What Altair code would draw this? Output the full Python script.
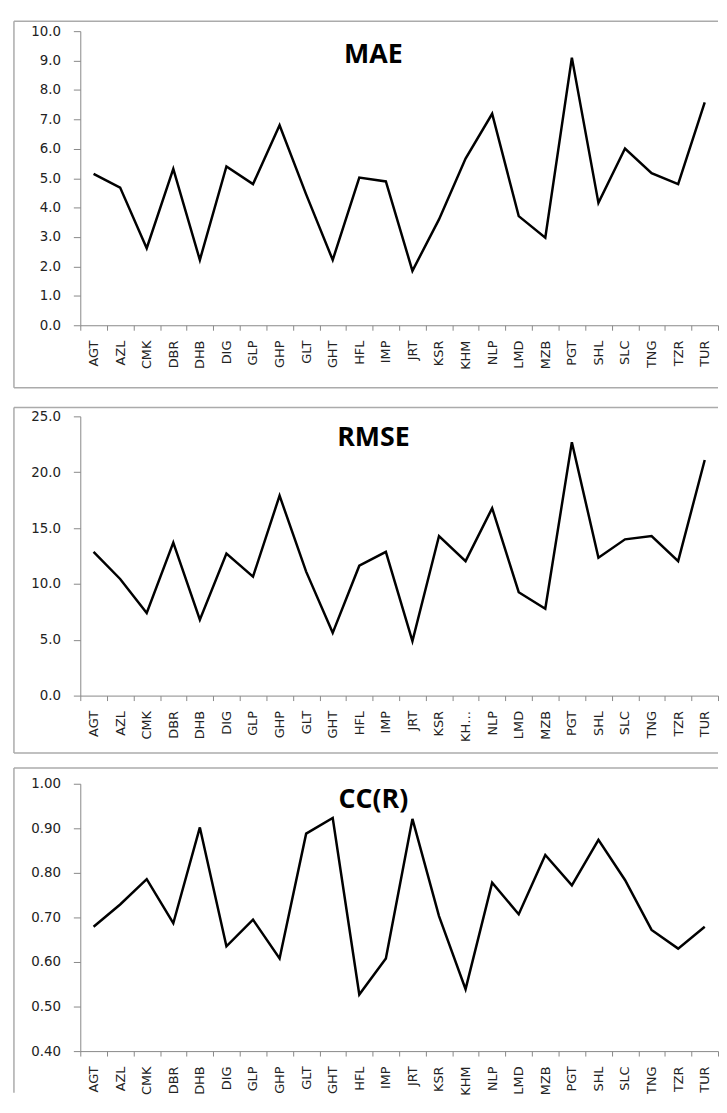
import altair as alt
import pandas as pd

stations = ["AGT", "AZL", "CMK", "DBR", "DHB", "DIG", "GLP", "GHP", "GLT", "GHT",
            "HFL", "IMP", "JRT", "KSR", "KHM", "NLP", "LMD", "MZB", "PGT", "SHL",
            "SLC", "TNG", "TZR", "TUR"]

mae = [5.15, 4.68, 2.62, 5.32, 2.22, 5.40, 4.80, 6.80, 4.45, 2.22,
       5.02, 4.89, 1.85, 3.60, 5.67, 7.19, 3.71, 2.98, 9.10, 4.16,
       6.01, 5.17, 4.80, 7.58]

rmse = [12.87, 10.44, 7.40, 13.70, 6.80, 12.72, 10.65, 17.90, 11.10, 5.62,
        11.63, 12.87, 4.88, 14.29, 12.04, 16.78, 9.26, 7.78, 22.69, 12.34,
        13.99, 14.29, 12.04, 21.09]

cc = [0.679, 0.729, 0.786, 0.687, 0.902, 0.635, 0.695, 0.608, 0.888, 0.923,
      0.527, 0.608, 0.921, 0.703, 0.539, 0.778, 0.707, 0.840, 0.772, 0.874,
      0.784, 0.672, 0.630, 0.679]

mae_ticks = [0, 1, 2, 3, 4, 5, 6, 7, 8, 9, 10]
rmse_ticks = [0, 5, 10, 15, 20, 25]
cc_ticks = [0.4, 0.5, 0.6, 0.7, 0.8, 0.9, 1.0]

titles = ["MAE", "RMSE", "CC(R)"]

W = 644
BOX_LEFT = -67
BOX_RIGHT = 644
BORDER = "#ababab"
LABEL_FONT = "DejaVu Sans"


def panel(values, title, ticks, fmt, height, box_top, box_bottom, title_y,
          label_expr=None, draw_bottom=True):
    df = pd.DataFrame({"station": stations, "value": values})
    x_axis = dict(title=None, labelAngle=270, tickBand="extent", labelOverlap=False,
                  labelPadding=10, tickSize=5, labelLimit=0, grid=False,
                  labelFont=LABEL_FONT, labelFontSize=13, labelColor="#222222",
                  domainColor="#888888", tickColor="#888888")
    if label_expr:
        x_axis["labelExpr"] = label_expr
    x = alt.X("station:N", sort=stations, bandPosition=0.5,
              scale=alt.Scale(type="band", paddingInner=0, paddingOuter=0),
              axis=alt.Axis(**x_axis))
    y = alt.Y("value:Q",
              scale=alt.Scale(domain=[ticks[0], ticks[-1]], nice=False, zero=False),
              axis=alt.Axis(title=None, values=ticks, format=fmt, grid=False,
                            tickSize=7, labelPadding=13,
                            labelFont=LABEL_FONT, labelFontSize=13.5, labelColor="#222222",
                            domainColor="#888888", tickColor="#888888"))
    line = alt.Chart(df).mark_line(color="black", strokeWidth=2.5, strokeJoin="miter").encode(
        x=x, y=y)
    one = alt.Data(values=[{"t": title}])
    txt = alt.Chart(one).mark_text(font="Open Sans", fontWeight="bold", fontSize=27,
                                   baseline="alphabetic", align="center",
                                   color="black").encode(
        x=alt.value(296), y=alt.value(title_y), text="t:N")
    top = alt.Chart(one).mark_rule(color=BORDER, strokeWidth=1.5).encode(
        x=alt.value(BOX_LEFT), x2=alt.value(BOX_RIGHT), y=alt.value(box_top))
    left = alt.Chart(one).mark_rule(color=BORDER, strokeWidth=1.5).encode(
        x=alt.value(BOX_LEFT), y=alt.value(box_top), y2=alt.value(box_bottom))
    layers = [top, left, line, txt]
    if draw_bottom:
        bottom = alt.Chart(one).mark_rule(color=BORDER, strokeWidth=1.5).encode(
            x=alt.value(BOX_LEFT), x2=alt.value(BOX_RIGHT), y=alt.value(box_bottom))
        layers.append(bottom)
    return alt.layer(*layers).properties(width=W, height=height)


p1 = panel(mae, titles[0], mae_ticks, ".1f", 297, -10, 360, 32)
p2 = panel(rmse, titles[1], rmse_ticks, ".1f", 282, -9, 340, 30,
           label_expr="datum.value == 'KHM' ? 'KH\u2026' : datum.value")
p3 = panel(cc, titles[2], cc_ticks, ".2f", 270, -16, 312, 25, draw_bottom=False)

chart = alt.vconcat(alt.vconcat(p1, p2, spacing=18), p3, spacing=13).properties(
    padding={"left": 5, "top": 7, "right": 0, "bottom": 0},
    background="white"
).configure_view(stroke=None)

chart.save("out.html", embed_options={"renderer": "svg", "actions": False})
